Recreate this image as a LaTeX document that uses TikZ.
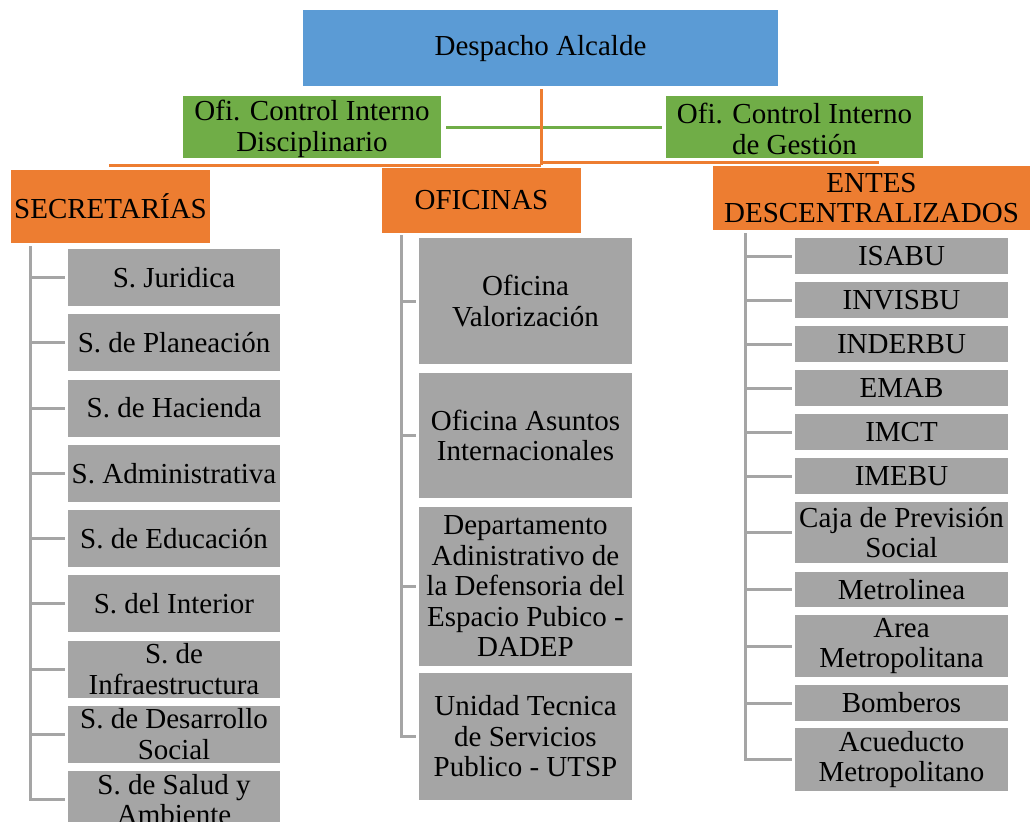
\documentclass[tikz,border=0pt]{standalone}
\usepackage{fontspec}
\setmainfont{Liberation Serif}
\definecolor{cblue}{HTML}{5B9BD5}
\definecolor{cgreen}{HTML}{70AD47}
\definecolor{corange}{HTML}{ED7D31}
\definecolor{cgray}{HTML}{A5A5A5}
\tikzset{
  box/.style={inner sep=0pt, align=center, font=\fontsize{29}{30.5}\selectfont, text=black},
  bluebox/.style={box, fill=cblue},
  greenbox/.style={box, fill=cgreen},
  orangebox/.style={box, fill=corange},
  graybox/.style={box, fill=cgray},
  oline/.style={draw=corange, line width=3pt},
  gline/.style={draw=cgreen, line width=3pt},
  tree/.style={draw=cgray, line width=3pt},
}
\begin{document}
\begin{tikzpicture}[x=1pt,y=-1pt]
\useasboundingbox (0,0) rectangle (1034,822);
% connectors (drawn first)
\coordinate (jnl) at (541,165);
\coordinate (jnr) at (541,162);
\coordinate (hl) at (109,165);
\coordinate (hr) at (879,162);
\coordinate (dtop) at (541,89);
% top
\node[bluebox, minimum width=475pt, minimum height=76pt, text height=20pt, text depth=6pt] (desp) at (540.5,48) {Despacho Alcalde};
\node[greenbox, minimum width=258pt, minimum height=62pt] (ofi1) at (312,127) {\rule{0pt}{24pt}Ofi. Control Interno\\Disciplinario};
\node[greenbox, minimum width=257pt, minimum height=62pt] (ofi2) at (794.5,127) {\rule{0pt}{24pt}Ofi. Control Interno\\de Gestión};
\draw[gline] ([xshift=5pt]ofi1.east) -- ([xshift=-4pt]ofi2.west);
\draw[oline] (dtop) -- (jnl);
\draw[oline] (hl) -- (jnl);
\draw[oline] (jnr) -- (hr);
% headers
\node[orangebox, minimum width=199pt, minimum height=73pt] (sec) at (110.5,206.5) {SECRETARÍAS};
\node[orangebox, minimum width=199pt, minimum height=65pt] (ofc) at (481.5,200.5) {OFICINAS};
\node[orangebox, minimum width=317pt, minimum height=64pt] (ent) at (871.5,198) {ENTES\\DESCENTRALIZADOS};
% secretarias
\tikzset{sbox/.style={graybox, minimum width=212pt, minimum height=57pt}}
\node[sbox] (s1) at (174,277.5) {S. Juridica};
\node[sbox] (s2) at (174,342.75) {S. de Planeación};
\node[sbox] (s3) at (174,408) {S. de Hacienda};
\node[sbox] (s4) at (174,473.25) {S. Administrativa};
\node[sbox] (s5) at (174,538.5) {S. de Educación};
\node[sbox] (s6) at (174,603.75) {S. del Interior};
\node[sbox] (s7) at (174,669) {S. de\\Infraestructura};
\node[sbox] (s8) at (174,734.25) {S. de Desarrollo\\Social};
\node[sbox] (s9) at (174,799.5) {S. de Salud y\\Ambiente};
\coordinate (sectop) at (30,246);
\draw[tree] (sectop) |- ([xshift=-3pt]s9.west);
\foreach \n in {s1,s2,s3,s4,s5,s6,s7,s8}
  \draw[tree] (\n.west -| sectop) -- ([xshift=-3pt]\n.west);
% oficinas
\tikzset{obox/.style={graybox, minimum width=213pt}}
\node[obox, minimum height=126pt] (o1) at (525.5,301) {Oficina\\Valorización};
\node[obox, minimum height=125pt] (o2) at (525.5,435.5) {Oficina Asuntos\\Internacionales};
\node[obox, minimum height=159pt] (o3) at (525.5,586.5) {Departamento\\Adinistrativo de\\la Defensoria del\\Espacio Pubico -\\DADEP};
\node[obox, minimum height=127pt] (o4) at (525.5,736.5) {Unidad Tecnica\\de Servicios\\Publico - UTSP};
\coordinate (ofctop) at (401,235);
\draw[tree] (ofctop) |- ([xshift=-3pt]o4.west);
\foreach \n in {o1,o2,o3}
  \draw[tree] (\n.west -| ofctop) -- ([xshift=-3pt]\n.west);
% entes
\tikzset{ebox/.style={graybox, minimum width=213pt, minimum height=36pt}}
\node[ebox] (e1) at (901.5,256) {ISABU};
\node[ebox] (e2) at (901.5,300) {INVISBU};
\node[ebox] (e3) at (901.5,344) {INDERBU};
\node[ebox] (e4) at (901.5,388) {EMAB};
\node[ebox] (e5) at (901.5,432) {IMCT};
\node[ebox] (e6) at (901.5,476) {IMEBU};
\node[ebox, minimum height=61pt] (e7) at (901.5,532.5) {Caja de Previsión\\Social};
\node[ebox, minimum height=35pt] (e8) at (901.5,589.5) {Metrolinea};
\node[ebox, minimum height=62pt] (e9) at (901.5,646) {Area\\Metropolitana};
\node[ebox] (e10) at (901.5,703) {Bomberos};
\node[ebox, minimum height=63pt] (e11) at (901.5,759.5) {Acueducto\\Metropolitano};
\coordinate (enttop) at (745,233);
\draw[tree] (enttop) |- ([xshift=-3pt]e11.west);
\foreach \n in {e1,e2,e3,e4,e5,e6,e7,e8,e9,e10}
  \draw[tree] (\n.west -| enttop) -- ([xshift=-3pt]\n.west);
\end{tikzpicture}
\end{document}
